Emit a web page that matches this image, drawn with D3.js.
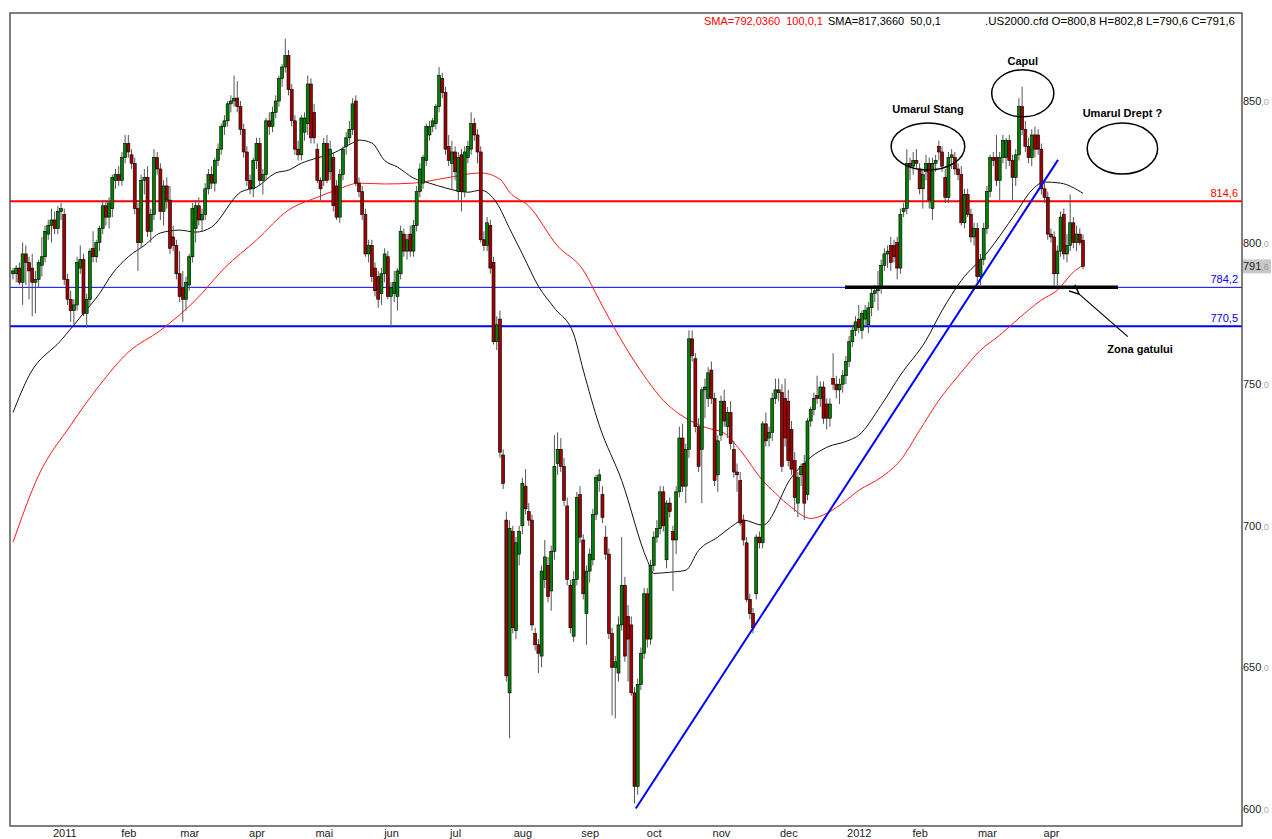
<!DOCTYPE html>
<html>
<head>
<meta charset="utf-8">
<title>US2000 daily candles</title>
<script src="https://d3js.org/d3.v7.min.js"></script>
<style>
  body { margin: 0; background: #fff; }
  svg { display: block; font-family: "Liberation Sans", Arial, sans-serif; }
  .hdr { font-size: 11px; }
  .note { font-size: 11px; font-weight: bold; }
</style>
</head>
<body>
<script>
// daily candles, Dec 2010 .. Apr 2012
const opens = [789,789,791,786,796,793,791,786,787,792,795,803,806,808,805,811,810,787,780,776,778,791,794,775,780,798,
  795,800,805,813,809,812,822,824,822,830,835,831,828,812,800,822,823,804,810,830,826,811,820,815,802,799,789,784,780,785,795,
  805,813,808,810,819,824,821,829,833,841,843,849,850,851,848,840,832,822,819,829,835,822,824,843,841,846,850,858,862,
  866,854,843,833,831,839,842,856,846,833,822,822,835,825,830,820,809,824,834,837,840,850,821,818,810,796,799,791,788,782,789,
  795,781,782,781,789,803,797,803,797,806,818,821,829,838,841,842,848,858,853,834,828,832,818,831,818,830,833,842,838,
  832,801,799,806,793,765,773,725,702,641,698,663,690,700,714,705,702,662,658,654,681,686,677,691,722,727,721,707,679,661,
  681,711,695,669,684,688,704,716,711,696,690,662,650,648,665,679,668,665,641,608,644,655,676,660,686,696,699,712,688,708,
  698,695,712,731,714,727,766,759,735,727,748,745,755,745,718,732,744,735,740,727,719,716,702,694,674,669,676,696,694,
  736,731,733,745,748,747,745,744,734,723,708,718,722,711,737,741,746,745,749,743,738,752,750,748,750,753,758,765,769,773,
  769,773,771,777,782,783,784,792,796,799,799,800,791,811,812,828,827,829,826,819,825,828,812,828,834,832,823,816,830,830,
  826,824,807,817,810,802,805,788,794,805,818,830,830,822,830,830,836,829,823,831,848,840,834,830,838,838,833,819,816,803,802,789,797,810,796,799,807,800,803,800.8];
const highs = [791,792,793,800,799,795,796,790,794,802,806,808,812,811,813,814,812,789,783,780,795,799,796,782,798,804,
  801,806,815,815,816,824,826,827,832,838,838,833,830,814,824,826,827,812,833,832,828,822,823,820,806,801,797,790,788,796,814,
  815,816,812,821,826,827,830,835,842,845,850,852,859,857,850,842,834,824,830,837,837,826,844,846,848,852,859,863,872,
  868,856,845,836,845,846,859,858,849,835,823,837,838,836,832,822,826,834,839,843,851,852,823,820,812,801,801,793,790,791,798,
  797,786,790,791,806,805,803,806,808,820,828,831,842,843,844,849,862,860,855,838,836,834,832,833,834,836,846,844,840,
  834,804,809,808,795,774,776,727,705,702,700,696,700,717,720,708,704,664,660,686,695,689,693,732,733,731,724,710,681,684,
  712,714,697,686,692,706,718,720,714,700,692,664,654,668,696,682,672,668,643,646,657,678,678,688,698,702,714,714,709,710,
  700,714,735,736,729,769,769,761,738,749,752,756,758,747,732,746,748,742,744,730,722,719,704,696,676,671,697,698,737,
  740,735,747,752,752,750,752,748,737,726,719,722,725,738,742,747,753,751,751,745,745,761,753,752,755,760,767,771,774,778,
  776,778,779,784,785,790,794,798,799,802,801,802,812,814,833,830,832,833,828,826,831,830,830,831,836,834,826,832,833,832,
  828,827,819,819,812,807,807,796,807,820,831,832,838,832,838,837,838,831,833,851,855,843,837,840,841,840,835,821,818,805,804,799,811,812,803,817,809,806,805,802.8];
const lows = [787,786,785,778,785,780,774,775,784,788,793,801,800,803,803,808,785,778,772,771,776,789,774,770,778,793,
  793,797,803,806,805,809,819,820,820,828,830,826,810,790,798,817,802,800,808,824,808,806,812,796,797,787,779,772,776,783,793,
  800,806,804,808,817,819,818,827,831,838,841,846,848,846,838,830,820,817,816,826,820,817,822,838,839,844,848,855,860,
  852,841,831,829,829,836,838,835,835,821,815,820,821,822,811,808,807,822,831,835,838,820,816,808,795,793,786,781,777,778,786,
  780,770,779,776,787,795,794,795,795,804,816,819,827,836,839,840,846,851,831,827,819,822,815,811,816,828,831,836,828,
  800,797,797,789,764,762,724,713,645,625,662,660,686,697,704,700,663,656,648,650,678,673,670,688,718,719,707,679,662,659,
  679,694,674,658,680,686,702,712,701,688,660,633,632,645,663,652,645,640,602,605,642,653,657,658,684,694,697,698,685,703,
  677,690,710,712,708,724,758,733,719,708,738,742,743,714,712,730,735,731,727,717,712,700,693,673,667,662,674,692,692,
  728,728,730,743,744,719,728,721,718,705,703,714,702,709,735,739,743,742,736,734,735,748,745,743,747,750,756,763,767,768,
  766,770,768,774,779,776,782,790,791,790,793,787,789,809,810,822,824,826,817,812,822,812,808,825,829,825,814,814,826,824,
  822,806,805,809,800,799,786,785,792,803,816,827,820,815,828,826,827,815,820,829,838,832,828,827,830,831,817,814,801,800,785,785,795,794,793,797,798,797,799,790.6];
const closes = [790,791,786,796,793,790,786,787,793,795,804,806,808,805,811,812,787,780,776,778,793,794,775,780,797,795,
  800,805,813,809,814,823,824,822,830,835,832,828,812,800,822,823,804,810,830,826,811,820,815,798,799,789,781,780,786,795,812,
  813,808,810,819,824,821,829,833,841,843,849,850,851,848,840,832,822,819,829,835,822,824,843,841,846,850,858,862,866,
  854,843,833,831,844,844,856,837,837,822,819,835,822,833,813,809,824,833,837,840,849,821,818,810,796,799,788,783,780,789,796,
  781,784,786,790,804,797,801,797,806,818,826,830,841,841,843,848,859,853,833,829,832,825,830,818,832,834,842,838,832,
  801,799,807,791,765,771,726,715,647,699,664,694,698,715,706,702,665,658,655,684,689,675,691,721,727,721,709,681,664,681,
  710,696,676,684,690,704,717,718,703,690,662,650,652,665,679,654,660,641,608,644,655,676,660,686,696,699,712,700,708,705,
  695,712,731,714,727,766,760,735,721,748,749,754,745,716,730,744,737,740,729,719,718,701,695,674,669,664,696,694,736,
  730,733,745,748,747,721,731,723,720,710,717,721,708,737,741,745,745,749,738,738,743,750,748,750,753,758,765,769,772,770,
  775,776,777,782,783,784,792,796,797,793,795,791,810,812,828,827,829,828,819,824,828,815,828,829,832,827,816,830,831,826,
  824,807,817,810,802,805,788,794,805,818,830,829,822,830,836,836,829,823,831,848,840,834,830,838,833,833,819,816,803,802,789,797,809,796,799,807,800,803,800,791.6];

// month labels on the time axis (candle index where they sit)
const monthIdx = [16, 36, 55, 76, 97, 118, 138, 159, 180, 200, 221, 242, 264, 283, 304, 324];
const monthLabels = ["2011", "feb", "mar", "apr", "mai", "jun", "jul", "aug", "sep", "oct", "nov", "dec", "2012", "feb", "mar", "apr"];
const priceTicks = [600, 650, 700, 750, 800, 850];

// moving averages (candle index, value)
const sma50Idx = [0,5,15,22,27,31,36,41,46,52,57,62,71,76,82,86,90,95,100,106,108,112,116,120,125,130,135,142,146,151,155,159,164,169,175,178,183,190,198,200,205,210,214,220,224,228,234,243,249,254,261,264,271,277,285,290,296,304,313,318,322,327,334];
const sma50 = [740,753,765.5,775,782,789,795,799,803.4,804.4,803.7,805.5,817.8,819.6,824.6,825.6,828,829.9,831.6,835.2,836.2,835.2,829,826.7,822.8,821,819.3,817.8,818.5,814,805,796,784.6,776.9,767.7,755,735.5,716,687.8,683.2,683.6,684.3,691.3,696,699.5,702,700.2,717.1,724.2,727.7,730.2,732,742.6,753.2,765.5,776,786.6,796.3,810.4,818.5,821.4,821,817.4];
const sma100Idx = [0,8,18,27,36,46,57,66,76,86,95,101,108,116,125,135,146,152,155,161,170,178,183,189,198,203,210,216,222,227,234,238,243,249,254,258,264,271,277,283,289,296,302,308,314,321,326,331,334];
const sma100 = [694.2,717.8,735.5,749.6,761.3,769,779.7,791,800.9,811.5,816,818.6,821,820.7,821,822.8,824.6,822.4,817.8,812.9,798.8,790.3,779.7,767.3,751.4,744.3,738,734.8,732.7,726.7,716,711.5,706.5,702.6,704.4,707.2,712.5,717.1,723.1,733.7,744.3,754.2,762,767.3,773.3,779.7,783.2,789.6,792];

// horizontal levels
const levelValues = [814.6, 784.2, 770.5];
const levelLabels = ["814,6", "784,2", "770,5"];
const levelColors = ["#ff0000", "#0000ff", "#0000ff"];
const levelWidths = [2, 1, 2];

// drawn objects (index / price)
const trendIdx = [194.4, 326.2];
const trendVal = [600.2, 829.2];
const neckIdx = [259.7, 344.9];
const neckVal = 784.2;
const shapeNames = ["Umarul Stang", "Capul", "Umarul Drept ?"];
const shapeIdx = [285.6, 315.2, 346.3];
const shapeVal = [833.9, 852.7, 833.2];
const shapeRi = [11.5, 9.7, 11];
const shapeRv = [8.3, 8.3, 9];
const shapeGap = [10, 5, 6];
const lastClose = 791.6;

const W = 1272, H = 839;
const plot = { left: 10, right: 1242, top: 13, bottom: 826 };

const svg = d3.select("body").append("svg")
  .attr("width", W)
  .attr("height", H);

const x = d3.scaleLinear().domain([0, closes.length - 1]).range([13, 1083]);
const y = d3.scaleLinear().domain([600, 850]).range([809, 101]);

svg.append("clipPath").attr("id", "clip")
  .append("rect")
  .attr("x", plot.left).attr("y", plot.top)
  .attr("width", plot.right - plot.left).attr("height", plot.bottom - plot.top);

const g = svg.append("g").attr("clip-path", "url(#clip)");

// levels
levelValues.forEach((v, k) => {
  g.append("line")
    .attr("x1", plot.left).attr("x2", plot.right)
    .attr("y1", y(v)).attr("y2", y(v))
    .attr("stroke", levelColors[k]).attr("stroke-width", levelWidths[k]);
  svg.append("text")
    .attr("x", plot.right - 4).attr("y", y(v) - 4)
    .attr("text-anchor", "end")
    .attr("font-size", 11)
    .attr("fill", levelColors[k])
    .text(levelLabels[k]);
});

// moving averages
const line = d3.line().curve(d3.curveMonotoneX);
g.append("path")
  .attr("d", line(sma100Idx.map((d, k) => [x(d), y(sma100[k])])))
  .attr("fill", "none").attr("stroke", "#ff1a1a").attr("stroke-width", 1);
g.append("path")
  .attr("d", line(sma50Idx.map((d, k) => [x(d), y(sma50[k])])))
  .attr("fill", "none").attr("stroke", "#111").attr("stroke-width", 1);

// candles
const idx = d3.range(closes.length);
const candle = g.append("g").selectAll("g")
  .data(idx)
  .enter().append("g");

candle.append("line")
  .attr("x1", i => x(i)).attr("x2", i => x(i))
  .attr("y1", i => y(highs[i])).attr("y2", i => y(lows[i]))
  .attr("stroke", "#555").attr("stroke-width", 1);

candle.append("rect")
  .attr("x", i => x(i) - 1.5)
  .attr("width", 3)
  .attr("y", i => y(Math.max(opens[i], closes[i])))
  .attr("height", i => Math.max(1, Math.abs(y(opens[i]) - y(closes[i]))))
  .attr("fill", i => closes[i] >= opens[i] ? "#008000" : "#a00000")
  .attr("stroke", "#000").attr("stroke-width", 0.6);

// trend line and neckline
g.append("line")
  .attr("x1", x(trendIdx[0])).attr("y1", y(trendVal[0]))
  .attr("x2", x(trendIdx[1])).attr("y2", y(trendVal[1]))
  .attr("stroke", "#0000ff").attr("stroke-width", 2);

g.append("line")
  .attr("x1", x(neckIdx[0])).attr("x2", x(neckIdx[1]))
  .attr("y1", y(neckVal)).attr("y2", y(neckVal))
  .attr("stroke", "#000").attr("stroke-width", 3.5);

// head & shoulders ellipses with labels
shapeIdx.forEach((d, k) => {
  const cx = x(d), cy = y(shapeVal[k]);
  const rx = x(d + shapeRi[k]) - cx;
  const ry = y(shapeVal[k] - shapeRv[k]) - cy;
  g.append("ellipse")
    .attr("cx", cx).attr("cy", cy).attr("rx", rx).attr("ry", ry)
    .attr("fill", "none").attr("stroke", "#000").attr("stroke-width", 1.5);
  g.append("text")
    .attr("class", "note")
    .attr("x", cx).attr("y", cy - ry - shapeGap[k])
    .attr("text-anchor", "middle")
    .text(shapeNames[k]);
});

// arrow to the neckline
svg.append("defs").append("marker")
  .attr("id", "arr").attr("viewBox", "0 0 10 10")
  .attr("refX", 1).attr("refY", 5)
  .attr("markerWidth", 9).attr("markerHeight", 9)
  .attr("orient", "auto-start-reverse")
  .append("path")
  .attr("d", "M10,1 L1,5 L10,9")
  .attr("fill", "none").attr("stroke", "#000").attr("stroke-width", 1.3);

g.append("line")
  .attr("x1", x(332.8)).attr("y1", y(781.8))
  .attr("x2", x(348)).attr("y2", y(766.8))
  .attr("stroke", "#000").attr("stroke-width", 1.2)
  .attr("marker-start", "url(#arr)");

g.append("text")
  .attr("class", "note")
  .attr("x", x(351.8)).attr("y", y(762.4) + 4)
  .attr("text-anchor", "middle")
  .text("Zona gatului");

// header (non-breaking spaces keep the double gaps)
const hdr = svg.append("g").attr("class", "hdr");
hdr.append("text").attr("x", 704).attr("y", 25).attr("fill", "#ff0000").text("SMA=792,0360\u00a0\u00a0100,0,1");
hdr.append("text").attr("x", 828).attr("y", 25).attr("fill", "#000").text("SMA=817,3660\u00a0\u00a050,0,1");
hdr.append("text").attr("x", 985).attr("y", 25).attr("fill", "#000").attr("font-size", 11.5)
  .text(".US2000.cfd O=800,8 H=802,8 L=790,6 C=791,6");

// frame
svg.append("rect")
  .attr("x", plot.left).attr("y", plot.top)
  .attr("width", plot.right - plot.left).attr("height", plot.bottom - plot.top)
  .attr("fill", "none").attr("stroke", "#555").attr("stroke-width", 1.5);

// price axis
const yAxis = d3.axisRight(y).tickValues(priceTicks).tickSize(0).tickPadding(1);
const ya = svg.append("g")
  .attr("transform", `translate(${plot.right},0)`)
  .call(yAxis);
ya.select(".domain").remove();
ya.selectAll(".tick text")
  .attr("font-size", 11)
  .attr("fill", "#222")
  .attr("font-family", "Liberation Sans, Arial, sans-serif")
  .each(function (d) {
    const t = d3.select(this).text("");
    t.append("tspan").text(d);
    t.append("tspan").attr("fill", "#aaa").attr("font-size", 9).text(",0");
  });

// last price box
svg.append("rect")
  .attr("x", plot.right + 1).attr("y", y(lastClose) - 7)
  .attr("width", 28).attr("height", 14)
  .attr("fill", "#c8c8c8");
const lp = svg.append("text")
  .attr("x", plot.right + 1).attr("y", y(lastClose) + 4)
  .attr("font-size", 11).attr("fill", "#222");
lp.append("tspan").text("791");
lp.append("tspan").attr("fill", "#999").attr("font-size", 9).text(",6");

// time axis
const xAxis = d3.axisBottom(x)
  .tickValues(monthIdx)
  .tickFormat((d, k) => monthLabels[k])
  .tickSize(0).tickPadding(3);
const xa = svg.append("g")
  .attr("transform", `translate(0,${plot.bottom})`)
  .call(xAxis);
xa.select(".domain").remove();
xa.selectAll(".tick text")
  .attr("font-size", 11)
  .attr("fill", "#222")
  .attr("font-family", "Liberation Sans, Arial, sans-serif");
</script>
</body>
</html>
